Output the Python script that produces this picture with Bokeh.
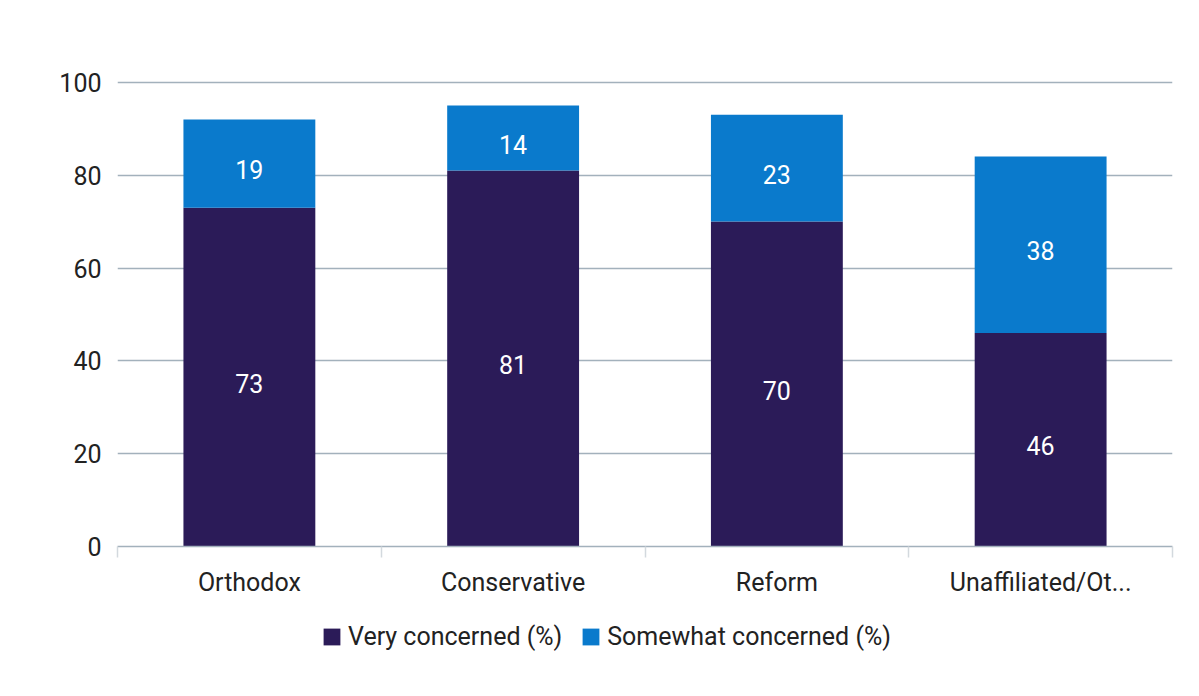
from bokeh.plotting import figure
from bokeh.layouts import column
from bokeh.core.properties import value
from bokeh.models import (ColumnDataSource, FactorRange, Range1d, LinearAxis, CategoricalAxis,
                          FixedTicker, LabelSet, Legend, LegendItem)
from bokeh.embed import file_html
from bokeh.resources import INLINE

categories = ["Orthodox", "Conservative", "Reform", "Unaffiliated/Ot..."]
very_concerned = [73, 81, 70, 46]
somewhat_concerned = [19, 14, 23, 38]
series_names = ["Very concerned (%)", "Somewhat concerned (%)"]
y_ticks = [0, 20, 40, 60, 80, 100]

colors = ["#2b1b58", "#0a7acc"]
grid_color = "#a3b1bc"
text_color = "#222222"
FONT = "Roboto"
FS = "25px"

source = ColumnDataSource(dict(
    cat=categories,
    very=very_concerned,
    somewhat=somewhat_concerned,
    mid_v=[v / 2 for v in very_concerned],
    mid_s=[v + s / 2 for v, s in zip(very_concerned, somewhat_concerned)],
    txt_v=[str(v) for v in very_concerned],
    txt_s=[str(s) for s in somewhat_concerned],
))

# ---------------- main chart ----------------
p = figure(x_range=FactorRange(*categories, range_padding=0), y_range=Range1d(0, 100.4),
           width=1199, height=612, output_backend="svg", toolbar_location=None,
           x_axis_location=None, y_axis_location="left",
           min_border_left=117, min_border_right=27, min_border_top=80, min_border_bottom=66)
p.outline_line_color = None
p.background_fill_color = "white"
p.border_fill_color = "white"

renderers = p.vbar_stack(["very", "somewhat"], x="cat", width=0.5, source=source,
                         color=colors, line_color=None)

p.xgrid.visible = False
p.ygrid.ticker = FixedTicker(ticks=y_ticks)
p.ygrid.grid_line_color = grid_color
p.ygrid.grid_line_width = 1.5

ya = p.yaxis[0]
ya.ticker = FixedTicker(ticks=y_ticks)
ya.axis_line_color = None
ya.major_tick_line_color = None
ya.minor_tick_line_color = None
ya.major_label_standoff = 10
ya.major_label_text_font = FONT
ya.major_label_text_font_size = FS
ya.major_label_text_color = text_color
ya.major_label_text_baseline = "alphabetic"

# ticks at category edges (synthetic coordinates of the factor range)
edge_axis = LinearAxis(ticker=FixedTicker(ticks=list(range(len(categories) + 1))))
edge_axis.axis_line_color = grid_color
edge_axis.axis_line_width = 1.5
edge_axis.major_tick_line_color = "#d3d9de"
edge_axis.major_tick_line_width = 1.5
edge_axis.major_tick_out = 11
edge_axis.major_tick_in = 0
edge_axis.minor_tick_line_color = None
edge_axis.major_label_text_font_size = "0px"
edge_axis.major_label_text_color = None
edge_axis.major_label_standoff = 0
p.add_layout(edge_axis, "below")

cat_axis = CategoricalAxis()
cat_axis.axis_line_color = None
cat_axis.major_tick_line_color = None
cat_axis.minor_tick_line_color = None
cat_axis.major_label_standoff = 4
cat_axis.major_label_text_font = FONT
cat_axis.major_label_text_font_size = FS
cat_axis.major_label_text_color = text_color
p.add_layout(cat_axis, "below")

for ycol, tcol in (("mid_v", "txt_v"), ("mid_s", "txt_s")):
    p.add_layout(LabelSet(x="cat", y=ycol, text=tcol, source=source,
                          text_align="center", text_baseline="middle", y_offset=-6,
                          text_color="white", text_font=value(FONT), text_font_size=FS))

# ---------------- legend strip ----------------
lp = figure(x_range=FactorRange(*categories), y_range=Range1d(1000, 1001),
            width=1199, height=84, output_backend="svg", toolbar_location=None,
            x_axis_location=None, y_axis_location=None,
            min_border_left=0, min_border_right=0, min_border_top=0, min_border_bottom=0)
lp.outline_line_color = None
lp.xgrid.visible = False
lp.ygrid.visible = False
lp.border_fill_color = "white"
leg_renderers = lp.vbar_stack(["very", "somewhat"], x="cat", width=0.5, source=source,
                              color=colors, line_color=None)

legend = Legend(items=[LegendItem(label=n, renderers=[r]) for n, r in zip(series_names, leg_renderers)],
                orientation="horizontal", location=(204, 45))
legend.border_line_color = None
legend.background_fill_alpha = 0
legend.label_text_font = FONT
legend.label_text_font_size = FS
legend.label_text_color = text_color
legend.glyph_width = 21
legend.glyph_height = 21
legend.label_standoff = 6
legend.spacing = 18
legend.margin = 0
legend.padding = 0
lp.add_layout(legend, "center")

layout = column(p, lp, spacing=0)
open("out.html", "w").write(file_html(layout, INLINE))
